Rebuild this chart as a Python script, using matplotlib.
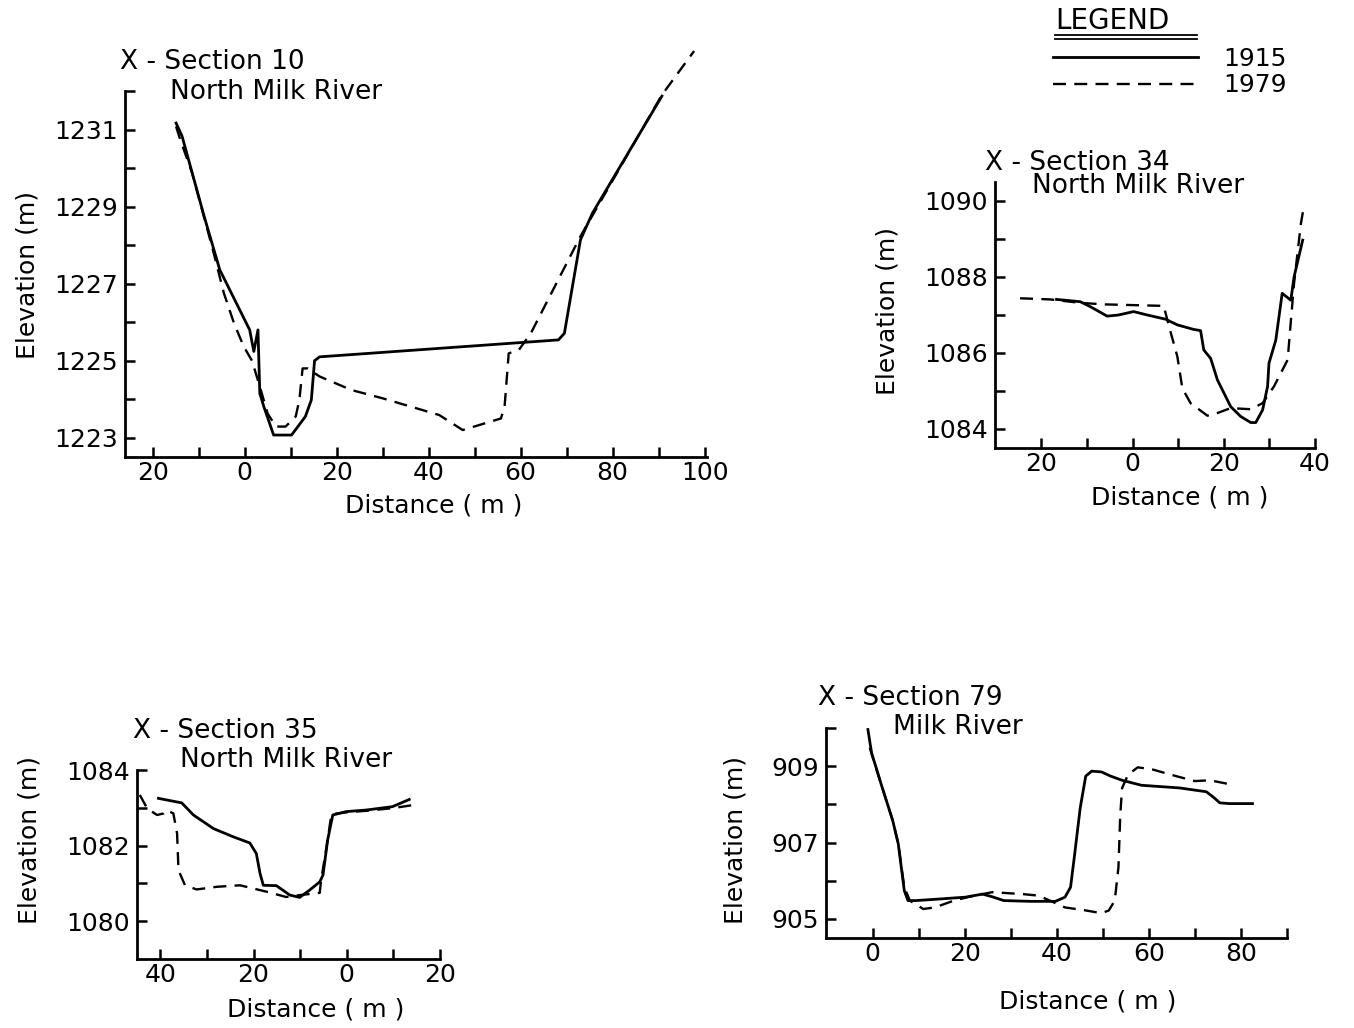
import numpy as np
import matplotlib
matplotlib.use('Agg')
import matplotlib.pyplot as plt
from matplotlib.lines import Line2D
from matplotlib.ticker import FixedLocator, FuncFormatter

W, H = 1354, 1028

# X-Section 10, North Milk River
s10_x_1915 = [-14.9, -13.6, -8.8, -5.4, 1.1, 2.0, 2.9, 3.3, 4.2, 6.3, 10.2, 13.2, 14.5, 15.2, 16.3,
              68.2, 69.5, 73.0, 75.6, 90.7]
s10_y_1915 = [1231.17, 1230.83, 1228.75, 1227.36, 1225.8, 1225.24, 1225.8, 1224.15, 1223.8, 1223.07,
              1223.07, 1223.55, 1223.98, 1225.0, 1225.1, 1225.54, 1225.71, 1228.14, 1228.83, 1231.87]
s10_x_1979 = [-14.9, -14.0, -11.4, -7.1, -4.5, -2.3, -0.2, 1.6, 3.3, 5.0, 6.8, 8.9, 11.1, 11.9, 12.6,
              13.7, 16.3, 23.2, 30.1, 42.3, 47.4, 55.7, 56.5, 57.4, 59.6, 62.2, 73.0, 90.7, 97.7]
s10_y_1979 = [1231.08, 1230.74, 1229.87, 1227.97, 1226.75, 1225.97, 1225.37, 1225.0, 1224.33, 1223.63,
              1223.29, 1223.29, 1223.55, 1223.98, 1224.8, 1224.8, 1224.59, 1224.24, 1224.02, 1223.59,
              1223.2, 1223.5, 1223.8, 1225.19, 1225.28, 1225.71, 1228.23, 1231.9, 1233.04]

# X-Section 34, North Milk River
s34_x_1915 = [-16.7, -11.5, -9.3, -5.6, -3.1, 0.2, 3.2, 7.2, 9.8, 13.4, 14.9, 15.6, 17.1, 18.6, 21.5,
              23.7, 25.9, 27.0, 28.5, 29.6, 29.9, 31.4, 32.8, 34.7, 35.4, 37.3]
s34_y_1915 = [1087.41, 1087.35, 1087.22, 1086.97, 1087.0, 1087.09, 1087.0, 1086.89, 1086.74, 1086.62,
              1086.59, 1086.08, 1085.86, 1085.29, 1084.59, 1084.33, 1084.17, 1084.17, 1084.5, 1085.12,
              1085.73, 1086.34, 1087.57, 1087.39, 1088.0, 1088.97]
s34_x_1979 = [-24.7, -18.1, -11.5, -6.4, 6.8, 8.3, 9.8, 10.9, 12.7, 16.4, 18.6, 21.5, 25.9, 28.5, 31.0,
              34.0, 34.6, 35.4, 36.9, 37.6]
s34_y_1979 = [1087.44, 1087.41, 1087.32, 1087.28, 1087.24, 1086.56, 1085.91, 1085.07, 1084.68, 1084.35,
              1084.42, 1084.55, 1084.52, 1084.68, 1085.12, 1085.82, 1086.69, 1087.83, 1089.4, 1089.89]

# X-Section 35, North Milk River (distance axis runs right to left)
s35_x_1915 = [40.4, 35.4, 32.9, 28.6, 24.3, 20.8, 19.4, 18.6, 17.9, 15.1, 13.7, 12.2, 10.1, 8.0, 5.8,
              5.1, 4.1, 3.0, 0.1, -4.1, -9.8, -13.4]
s35_y_1915 = [1083.25, 1083.13, 1082.81, 1082.45, 1082.23, 1082.07, 1081.79, 1081.26, 1080.95, 1080.94,
              1080.82, 1080.69, 1080.63, 1080.82, 1081.04, 1081.22, 1082.15, 1082.81, 1082.9, 1082.94,
              1083.03, 1083.22]
s35_x_1979 = [44.4, 42.8, 40.7, 39.3, 38.6, 37.2, 36.4, 36.1, 34.7, 32.2, 27.9, 22.9, 17.2, 13.0, 10.1,
              5.8, 5.5, 4.1, 3.3, 0.1, -4.1, -9.8, -14.1]
s35_y_1979 = [1083.34, 1082.98, 1082.81, 1082.85, 1082.94, 1082.85, 1082.32, 1081.35, 1080.95, 1080.84,
              1080.91, 1080.95, 1080.78, 1080.64, 1080.69, 1080.75, 1081.09, 1082.15, 1082.83, 1082.88,
              1082.92, 1082.99, 1083.07]

# X-Section 79, Milk River
s79_x_1915 = [-1.0, -0.2, 1.9, 4.4, 5.6, 6.9, 7.7, 9.4, 14.4, 20.2, 23.9, 26.0, 28.5, 34.3, 39.7, 41.8,
              43.0, 43.9, 45.1, 46.3, 47.6, 49.7, 51.7, 54.2, 58.4, 66.7, 72.5, 74.2, 75.4, 77.5, 82.5]
s79_y_1915 = [909.96, 909.35, 908.52, 907.57, 906.96, 905.74, 905.48, 905.48, 905.52, 905.57, 905.65,
              905.58, 905.48, 905.46, 905.46, 905.57, 905.83, 906.7, 907.91, 908.74, 908.87, 908.85,
              908.74, 908.63, 908.5, 908.43, 908.33, 908.17, 908.04, 908.02, 908.02]
s79_x_1979 = [-0.6, 1.9, 4.4, 5.6, 6.9, 8.1, 11.0, 13.5, 17.7, 21.0, 26.0, 32.6, 36.0, 38.5, 41.8, 45.9,
              49.7, 51.3, 52.6, 53.4, 53.8, 54.2, 55.5, 57.6, 60.9, 65.9, 70.0, 73.3, 78.7]
s79_y_1979 = [909.48, 908.52, 907.57, 906.96, 905.83, 905.48, 905.26, 905.3, 905.48, 905.58, 905.7,
              905.65, 905.61, 905.48, 905.3, 905.23, 905.15, 905.22, 905.48, 906.35, 907.74, 908.43,
              908.78, 908.97, 908.91, 908.74, 908.61, 908.63, 908.5]


def px_axes(fig, x0, x1, y0, y1):
    # y0 top pixel, y1 bottom pixel
    return fig.add_axes([x0 / W, 1 - y1 / H, (x1 - x0) / W, (y1 - y0) / H])


def ftxt(fig, x, y, s, **kw):
    fig.text(x / W, 1 - y / H, s, **kw)


def style_axes(ax, xlim, ylim, xmaj, xmin, ymaj, ymin, ytop=None):
    ax.set_xlim(*xlim)
    ax.set_ylim(*ylim)
    for side in ('top', 'right'):
        ax.spines[side].set_visible(False)
    for side in ('left', 'bottom'):
        ax.spines[side].set_linewidth(2.0)
    if ytop is not None:
        ax.spines['left'].set_bounds(ylim[0], ytop)
    ax.xaxis.set_major_locator(FixedLocator(xmaj))
    ax.xaxis.set_minor_locator(FixedLocator(xmin))
    ax.yaxis.set_major_locator(FixedLocator(ymaj))
    ax.yaxis.set_minor_locator(FixedLocator(ymin))
    ax.xaxis.set_major_formatter(FuncFormatter(lambda v, p: f'{abs(v):.0f}'))
    ax.tick_params(which='both', direction='in', length=7, width=1.8, labelsize=18)
    ax.tick_params(axis='x', pad=3)
    ax.tick_params(axis='y', pad=5)
    ax.patch.set_alpha(0)


solid = dict(color='black', lw=2.0, solid_joinstyle='round')
dashed = dict(color='black', lw=1.7, linestyle=(0, (5.5, 3.5)))

fig = plt.figure(figsize=(W / 100, H / 100), dpi=100)
fs_title = 19
fs_lab = 18

# Section 10
ax1 = px_axes(fig, 125, 707, 41, 457)
l1, = ax1.plot(s10_x_1915, s10_y_1915, label='1915', clip_on=False, **solid)
l2, = ax1.plot(s10_x_1979, s10_y_1979, label='1979', clip_on=False, **dashed)
style_axes(ax1, (-26, 100.5), (1222.5, 1233.3), range(-20, 101, 20), range(-10, 100, 20),
           range(1223, 1232, 2), range(1224, 1233, 2), ytop=1232)
ftxt(fig, 120, 62, 'X - Section 10', fontsize=fs_title, va='center')
ftxt(fig, 170, 92, 'North Milk River', fontsize=fs_title, va='center')
ftxt(fig, 28, 275, 'Elevation (m)', fontsize=fs_lab, rotation=90, ha='center', va='center')
ftxt(fig, 434, 505, 'Distance ( m )', fontsize=fs_lab, ha='center', va='center')

# Section 34
ax2 = px_axes(fig, 995, 1315, 182, 448)
ax2.plot(s34_x_1915, s34_y_1915, **solid)
ax2.plot(s34_x_1979, s34_y_1979, **dashed)
style_axes(ax2, (-30.2, 40), (1083.5, 1090.5), [-20, 0, 20, 40], [-10, 10, 30],
           [1084, 1086, 1088, 1090], [1085, 1087, 1089])
ftxt(fig, 985, 163, 'X - Section 34', fontsize=fs_title, va='center')
ftxt(fig, 1032, 186, 'North Milk River', fontsize=fs_title, va='center')
ftxt(fig, 888, 311, 'Elevation (m)', fontsize=fs_lab, rotation=90, ha='center', va='center')
ftxt(fig, 1180, 498, 'Distance ( m )', fontsize=fs_lab, ha='center', va='center')

# Section 35
ax3 = px_axes(fig, 137, 440, 770, 959)
ax3.plot(s35_x_1915, s35_y_1915, **solid)
ax3.plot(s35_x_1979, s35_y_1979, **dashed)
style_axes(ax3, (45, -20), (1079, 1084), [40, 20, 0, -20], [30, 10, -10],
           [1080, 1082, 1084], [1081, 1083])
ftxt(fig, 133, 731, 'X - Section 35', fontsize=fs_title, va='center')
ftxt(fig, 180, 760, 'North Milk River', fontsize=fs_title, va='center')
ftxt(fig, 30, 840, 'Elevation (m)', fontsize=fs_lab, rotation=90, ha='center', va='center')
ftxt(fig, 316, 1010, 'Distance ( m )', fontsize=fs_lab, ha='center', va='center')

# Section 79
ax4 = px_axes(fig, 826, 1287, 728, 938)
ax4.plot(s79_x_1915, s79_y_1915, **solid)
ax4.plot(s79_x_1979, s79_y_1979, **dashed)
style_axes(ax4, (-10.1, 90), (904.5, 910), range(0, 81, 20), range(10, 91, 20),
           [905, 907, 909], [906, 908, 910])
ftxt(fig, 818, 698, 'X - Section 79', fontsize=fs_title, va='center')
ftxt(fig, 893, 727, 'Milk River', fontsize=fs_title, va='center')
ftxt(fig, 735, 840, 'Elevation (m)', fontsize=fs_lab, rotation=90, ha='center', va='center')
ftxt(fig, 1088, 1002, 'Distance ( m )', fontsize=fs_lab, ha='center', va='center')

# legend
leg = fig.legend(handles=[l1, l2], loc='upper left', bbox_to_anchor=(1053 / W, 1 - 47 / H),
                 frameon=False, fontsize=18, handlelength=5.8, handletextpad=1.0,
                 labelspacing=0.1, borderpad=0, borderaxespad=0)
ftxt(fig, 1055, 21, 'LEGEND', fontsize=20, va='center')
for yy in (35, 39):
    fig.add_artist(Line2D([1055 / W, 1197 / W], [1 - yy / H, 1 - yy / H],
                          transform=fig.transFigure, color='black', lw=1.3))

fig.savefig('out.png', dpi=100)
